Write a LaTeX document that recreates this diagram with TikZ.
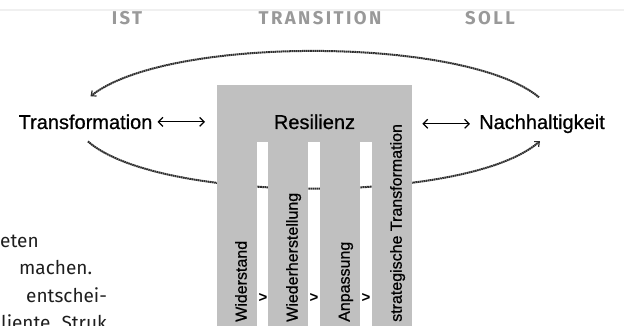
\documentclass[tikz,border=0pt]{standalone}
\usepackage{fontspec}
\setmainfont{Liberation Sans}
\newfontfamily\termfont[FakeBold=0.7]{Liberation Sans}
\newfontfamily\bodyfont{Fira Sans}
\newfontfamily\headfont[LetterSpace=13]{Fira Sans}
\usetikzlibrary{arrows.meta}
\definecolor{pillargray}{HTML}{C0C0C0}
\definecolor{headgray}{HTML}{999999}
\definecolor{loopgray}{HTML}{2E2E2E}
\definecolor{bodytext}{HTML}{1E1E1E}

\begin{document}
\begin{tikzpicture}[x=1pt,y=1pt,
  term/.style={inner sep=0pt, anchor=base, font=\termfont\fontsize{20}{24}\selectfont},
  phase/.style={inner sep=0pt, text=headgray, font=\headfont\bfseries\fontsize{18.5}{22}\selectfont},
  pillar/.style={fill=pillargray, inner sep=0pt, minimum width=40pt, minimum height=185pt, anchor=south west},
  vlabel/.style={rotate=90, anchor=base west, inner sep=0pt, font=\termfont\fontsize{16}{19}\selectfont},
  stepmark/.style={inner sep=0pt, font=\bfseries\fontsize{15}{18}\selectfont},
  roundtrip/.style={loopgray, line width=2pt, dash pattern=on 1.6pt off 0.5pt,
    -{Straight Barb[length=4pt,width=7pt,line width=1.2pt]}},
  twoway/.style={line width=1.2pt,
    {Straight Barb[length=4.5pt,width=9pt]}-{Straight Barb[length=4.5pt,width=9pt]}},
  bodyline/.style={inner sep=0pt, anchor=base west, text=bodytext, font=\bodyfont\fontsize{19}{23}\selectfont}]
  \useasboundingbox (0,0) rectangle (624,326);
  \clip (0,0) rectangle (624,326);
  \draw[gray!12, line width=1.5pt] (0,316) -- (624,316);

  \node[phase] (ist) at (127,308) {IST};
  \node[phase] (transition) at (320,308) {TRANSITION};
  \node[phase] (soll) at (490,308) {SOLL};

  \node[term] (transf) at (85.5,197) {Transformation};
  \node[term] (nachh) at (542,197) {Nachhaltigkeit};

  \draw[roundtrip] ([xshift=-3pt,yshift=17pt]nachh.north)
    .. controls +(-73,61) and +(77,61) .. ([xshift=5pt,yshift=18pt]transf.north);
  \draw[roundtrip] ([xshift=2.4pt,yshift=-12pt]transf.south)
    .. controls +(72,-63) and +(-72,-63) .. ([xshift=-2pt,yshift=-7.7pt]nachh.south);

  \node[fill=pillargray, inner sep=0pt, minimum width=195pt, minimum height=57pt,
    anchor=south west] (head) at (217,184) {};
  \foreach \x/\name in {217/w, 268/r, 320/a, 372/s}
    \node[pillar] (\name) at (\x,0) {};
  \node[term] (res) at (314.5,197) {Resilienz};

  \foreach \name/\txt in {w/Widerstand, r/Wiederherstellung, a/Anpassung, s/strategische Transformation}
    \node[vlabel] at ([xshift=9.5pt,yshift=4pt]\name.south) {\txt};
  \foreach \name in {w,r,a}
    \node[stepmark] at ([xshift=5.5pt,yshift=28pt]\name.south east) {>};

  \draw[twoway] ([xshift=5pt]transf.east) -- ([xshift=-12pt]transf.east -| head.west);
  \draw[twoway] ([xshift=10pt]nachh.west -| head.east) -- ([xshift=-9pt]nachh.west);

  \node[bodyline] (l1) at (0,78) {eten};
  \node[bodyline] (l2) at (19,51) {machen.};
  \node[bodyline] (l3) at (26,23.5) {entschei-};
  \node[bodyline] (l4) at (1,-3.5) {liente\hspace{11pt}Struk};
\end{tikzpicture}
\end{document}
